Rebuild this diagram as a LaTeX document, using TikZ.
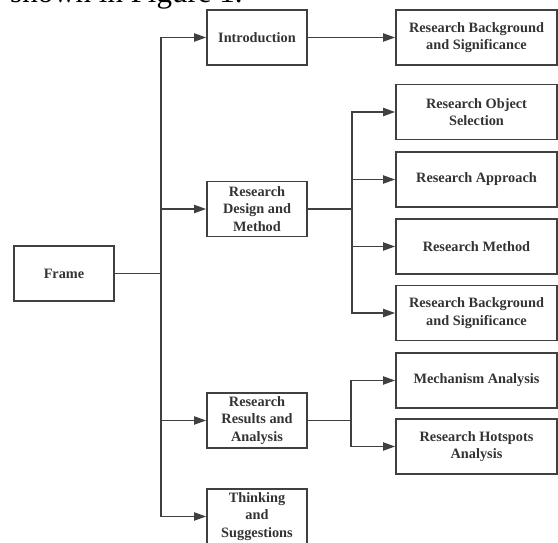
\documentclass[tikz,border=0pt]{standalone}
\usepackage{fontspec}
\setmainfont{Liberation Serif}
\usetikzlibrary{arrows.meta}
\definecolor{linec}{HTML}{404040}
\definecolor{textc}{HTML}{333333}
\begin{document}
\begin{tikzpicture}[x=1pt,y=-1pt,
 box/.style={draw=linec, line width=1.6pt, minimum width=100pt, minimum height=55pt, align=center, font=\fontsize{14.3}{17.5}\selectfont\bfseries, text=textc, inner sep=2pt},
 wide/.style={box, minimum width=161pt},
 conn/.style={draw=linec, line width=1.9pt},
 arr/.style={conn, -{Triangle[length=12pt,width=8pt]}}]
\useasboundingbox (0,0) rectangle (558,543);
\clip (0,0) rectangle (558,543);
\node[anchor=base west, inner sep=0pt, font=\fontsize{31}{31}\selectfont, text=black] (cap) at (10,3) {shown in Figure 1.};
% boxes
\node[box] (frame) at (64,273.5) {Frame};
\node[box] (intro) at (257,37.5) {Introduction};
\node[box] (design) at (257,209) {Research\\Design and\\Method};
\node[box] (results) at (257,420.5) {Research\\Results and\\Analysis};
\node[box] (think) at (257,516.5) {Thinking\\and\\Suggestions};
\node[wide] (rb1) at (476.5,37.5) {Research Background\\and Significance};
\node[wide] (ros) at (476.5,112) {Research Object\\Selection};
\node[wide] (ra) at (476.5,179.5) {Research Approach};
\node[wide] (rm) at (476.5,246.5) {Research Method};
\node[wide] (rb2) at (476.5,313) {Research Background\\and Significance};
\node[wide] (ma) at (476.5,380.5) {Mechanism Analysis};
\node[wide] (rh) at (476.5,446.5) {Research Hotspots\\Analysis};
% junctions
\coordinate (j1) at (161,273.5);
\coordinate (j2) at (352,209);
\coordinate (j3) at (351,420.5);
% connectors
\draw[conn] (frame.east) -- (j1);
\draw[arr] (j1) |- (intro.west);
\draw[arr] (j1) |- (design.west);
\draw[arr] (j1) |- (results.west);
\draw[arr] (j1) |- (think.west);
\draw[arr] (intro.east) -- (rb1.west);
\draw[conn] (design.east) -- (j2);
\draw[arr] (j2) |- (ros.west);
\draw[arr] (j2) |- (ra.west);
\draw[arr] (j2) |- (rm.west);
\draw[arr] (j2) |- (rb2.west);
\draw[conn] (results.east) -- (j3);
\draw[arr] (j3) |- (ma.west);
\draw[arr] (j3) |- (rh.west);
\end{tikzpicture}
\end{document}
